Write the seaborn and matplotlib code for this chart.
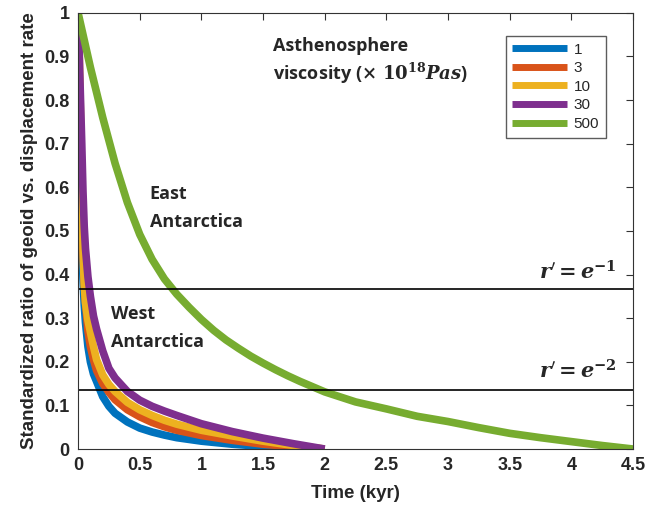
import numpy as np
import pandas as pd
import matplotlib
matplotlib.use("Agg")
import matplotlib.pyplot as plt
import seaborn as sns

# viscosity labels (x 10^18 Pa s)
viscosities = ["1", "3", "10", "30", "500"]
colors = ["#0072BD", "#D95319", "#EDB120", "#7E2F8E", "#77AC30"]

t_1 = [0, 0.01, 0.02, 0.03, 0.04, 0.05, 0.06, 0.08, 0.1, 0.125, 0.15, 0.2, 0.25, 0.3,
       0.4, 0.5, 0.6, 0.7, 0.8, 1.0, 1.25, 1.5, 1.75, 2.0]
r_1 = [1, 0.78, 0.6, 0.47, 0.39, 0.33, 0.29, 0.235, 0.2, 0.172, 0.155, 0.12, 0.098, 0.082,
       0.062, 0.048, 0.039, 0.032, 0.026, 0.018, 0.011, 0.006, 0.002, 0.0]

t_3 = [0, 0.01, 0.02, 0.03, 0.04, 0.05, 0.06, 0.08, 0.1, 0.125, 0.15, 0.2, 0.25, 0.3,
       0.4, 0.5, 0.6, 0.7, 0.8, 1.0, 1.25, 1.5, 1.75, 2.0]
r_3 = [1, 0.85, 0.68, 0.54, 0.45, 0.39, 0.34, 0.27, 0.235, 0.205, 0.18, 0.15, 0.13, 0.113,
       0.09, 0.074, 0.061, 0.051, 0.043, 0.031, 0.02, 0.011, 0.005, 0.0]

t_10 = [0, 0.01, 0.02, 0.03, 0.04, 0.05, 0.06, 0.08, 0.1, 0.125, 0.15, 0.2, 0.25, 0.3,
        0.4, 0.5, 0.6, 0.7, 0.8, 0.9, 1.0, 1.25, 1.5, 1.75, 2.0]
r_10 = [1, 0.9, 0.76, 0.6, 0.46, 0.375, 0.335, 0.295, 0.268, 0.235, 0.205, 0.17, 0.148, 0.132,
        0.107, 0.09, 0.077, 0.066, 0.057, 0.05, 0.043, 0.03, 0.018, 0.008, 0.0]

t_30 = [0, 0.01, 0.02, 0.03, 0.04, 0.05, 0.06, 0.08, 0.1, 0.125, 0.15, 0.2, 0.25, 0.3,
        0.4, 0.5, 0.6, 0.7, 0.8, 1.0, 1.25, 1.5, 1.75, 2.0]
r_30 = [1, 0.9, 0.8, 0.7, 0.59, 0.51, 0.46, 0.395, 0.35, 0.305, 0.275, 0.225, 0.185, 0.163,
        0.132, 0.112, 0.098, 0.087, 0.077, 0.058, 0.04, 0.025, 0.012, 0.0]

t_500 = [0, 0.1, 0.2, 0.3, 0.4, 0.5, 0.6, 0.7, 0.8, 0.9, 1.0, 1.1, 1.2, 1.3, 1.4, 1.5,
         1.6, 1.7, 1.8, 1.9, 2.0, 2.25, 2.5, 2.75, 3.0, 3.25, 3.5, 3.75, 4.0, 4.25, 4.5]
r_500 = [1.0, 0.875, 0.76, 0.655, 0.565, 0.492, 0.435, 0.39, 0.355, 0.325, 0.297, 0.272,
         0.25, 0.231, 0.213, 0.197, 0.182, 0.168, 0.155, 0.143, 0.131, 0.108, 0.092, 0.075,
         0.063, 0.049, 0.036, 0.026, 0.017, 0.008, 0.0]

series_t = [t_1, t_3, t_10, t_30, t_500]
series_r = [r_1, r_3, r_10, r_30, r_500]

frames = []
for name, t, r in zip(viscosities, series_t, series_r):
    frames.append(pd.DataFrame({"Time": t, "ratio": r, "visc": name}))
df = pd.concat(frames, ignore_index=True)

sns.set_style("white")
plt.rcParams["font.family"] = ["Liberation Sans", "DejaVu Sans"]
plt.rcParams["mathtext.fontset"] = "dejavuserif"

fig = plt.figure(figsize=(6.56, 5.12), dpi=100)
ax = fig.add_axes([0.119, 0.123, 0.846, 0.852])

sns.lineplot(data=df, x="Time", y="ratio", hue="visc", hue_order=viscosities,
             palette=colors, sort=False, estimator=None, linewidth=5.5,
             solid_joinstyle="round", solid_capstyle="butt", ax=ax)

ax.axhline(np.exp(-1), color="black", lw=1.2)
ax.axhline(np.exp(-2), color="black", lw=1.2)

ax.set_xlim(0, 4.5)
ax.set_ylim(0, 1)
ax.set_xticks(np.arange(0, 4.51, 0.5))
ax.set_xticklabels(["0", "0.5", "1", "1.5", "2", "2.5", "3", "3.5", "4", "4.5"])
ax.set_yticks(np.arange(0, 1.01, 0.1))
ax.set_yticklabels(["0", "0.1", "0.2", "0.3", "0.4", "0.5", "0.6", "0.7", "0.8", "0.9", "1"])
ax.tick_params(direction="in", length=5, width=0.8, top=True, right=True,
               labelsize=13, color="#333333", pad=6)
for lab in ax.get_xticklabels() + ax.get_yticklabels():
    lab.set_fontweight("bold")
for s in ax.spines.values():
    s.set_color("#333333")
    s.set_linewidth(0.8)

ax.set_xlabel("Time (kyr)", fontsize=13.5, fontweight="bold", labelpad=8)
ax.set_ylabel("Standardized ratio of geoid vs. displacement rate", fontsize=13.5,
              fontweight="bold", labelpad=5)

leg = ax.legend(loc="upper right", bbox_to_anchor=(0.965, 0.965), fontsize=11,
                frameon=True, fancybox=False, edgecolor="#333333", handlelength=3.6,
                handletextpad=0.4, labelspacing=0.3, borderpad=0.45)
for line in leg.get_lines():
    line.set_linewidth(5)
    line.set_solid_capstyle("butt")

txt = dict(family=["Open Sans", "DejaVu Sans"], fontsize=13, fontweight="bold")
ax.text(1.58, 0.925, "Asthenosphere", va="center", **txt)
ax.text(1.58, 0.86, r"viscosity ($\mathbf{\times\ 10^{18}}$$\boldsymbol{Pas}$)", va="center", **txt)
ax.text(0.58, 0.585, "East", va="center", **txt)
ax.text(0.58, 0.52, "Antarctica", va="center", **txt)
ax.text(0.27, 0.31, "West", va="center", **txt)
ax.text(0.27, 0.245, "Antarctica", va="center", **txt)
ax.text(4.37, 0.407, r"$\boldsymbol{r}' \mathbf{=} \boldsymbol{e}^{\mathbf{-1}}$",
        ha="right", va="center", fontsize=15)
ax.text(4.37, 0.178, r"$\boldsymbol{r}' \mathbf{=} \boldsymbol{e}^{\mathbf{-2}}$",
        ha="right", va="center", fontsize=15)

fig.savefig("out.png", dpi=100)
